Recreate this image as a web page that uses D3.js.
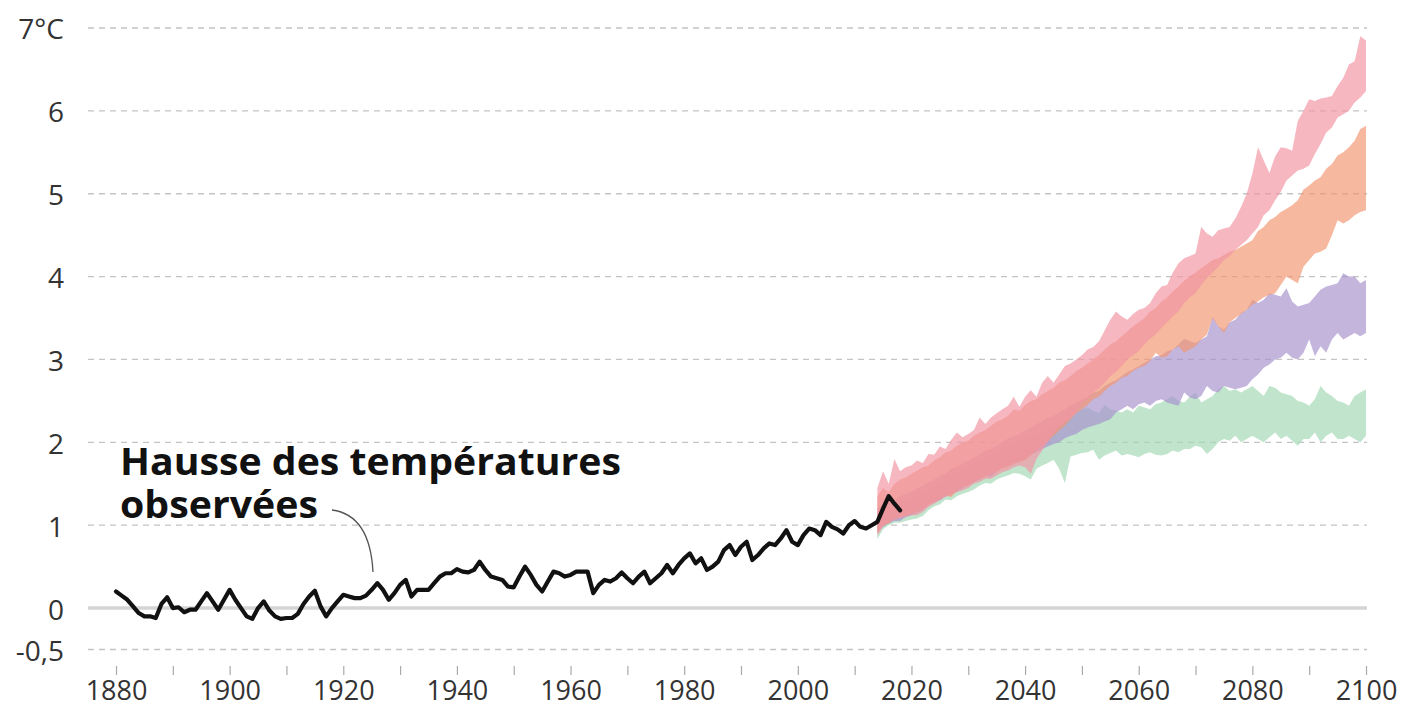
<!DOCTYPE html>
<html><head><meta charset="utf-8">
<script src="https://cdn.jsdelivr.net/npm/d3@7"></script>
<style>
html,body{margin:0;padding:0;background:#fff;}
svg{display:block;font-family:"Open Sans",sans-serif;}
</style></head><body>
<svg id="chart" width="1407" height="709"></svg>
<script>
// ---------- DATA ----------
const yTicks = [-0.5, 0, 1, 2, 3, 4, 5, 6, 7];
const yTickLabels = ["-0,5", "0", "1", "2", "3", "4", "5", "6", "7°C"];
const xTicks = [1880,1890,1900,1910,1920,1930,1940,1950,1960,1970,1980,1990,2000,2010,2020,2030,2040,2050,2060,2070,2080,2090,2100];
const xTickLabels = ["1880","","1900","","1920","","1940","","1960","","1980","","2000","","2020","","2040","","2060","","2080","","2100"];

const obsStartYear = 1880;
const obsTemp = [
  0.20,0.15,0.10,0.02,-0.06,-0.10,-0.10,-0.12,0.05,0.13,
  0.00,0.01,-0.05,-0.02,-0.02,0.08,0.18,0.08,-0.02,0.10,
  0.22,0.10,0.00,-0.10,-0.13,0.00,0.08,-0.03,-0.10,-0.13,
  -0.12,-0.12,-0.07,0.05,0.14,0.21,0.02,-0.10,0.00,0.08,
  0.16,0.14,0.12,0.12,0.15,0.22,0.30,0.22,0.10,0.18,
  0.28,0.34,0.14,0.22,0.22,0.22,0.30,0.38,0.42,0.42,
  0.47,0.44,0.43,0.46,0.56,0.46,0.38,0.36,0.34,0.26,
  0.25,0.38,0.50,0.40,0.28,0.20,0.32,0.44,0.42,0.38,
  0.40,0.44,0.44,0.44,0.18,0.28,0.34,0.32,0.36,0.43,
  0.36,0.30,0.38,0.44,0.30,0.36,0.42,0.52,0.42,0.52,
  0.60,0.66,0.54,0.60,0.46,0.50,0.56,0.70,0.76,0.64,
  0.74,0.80,0.58,0.64,0.72,0.78,0.76,0.84,0.94,0.80,
  0.76,0.88,0.96,0.94,0.88,1.04,0.98,0.95,0.90,1.00,
  1.05,0.98,0.96,1.00,1.04,1.20,1.35,1.26,1.18
];

const scenStartYear = 2014;
// 2014..2100
const greenLow = [
  0.83,0.95,1.00,1.03,1.03,1.05,
  1.07,1.08,1.11,1.18,1.23,1.25,1.31,1.30,1.35,1.38,
  1.40,1.43,1.48,1.51,1.50,1.55,1.58,1.60,1.63,1.62,
  1.59,1.55,1.68,1.72,1.75,1.79,1.68,1.51,1.83,1.85,
  1.87,1.88,1.91,1.79,1.84,1.87,1.90,1.84,1.86,1.84,
  1.82,1.86,1.88,1.85,1.84,1.86,1.90,1.88,1.92,1.92,
  1.96,1.94,1.86,1.92,2.00,2.04,2.02,2.08,2.00,2.04,
  2.08,2.04,2.00,2.06,2.12,2.04,2.08,2.02,1.96,2.04,
  2.04,2.12,2.00,2.08,2.12,2.04,2.04,2.08,2.04,2.00,
  2.08
];
const greenHigh = [
  1.10,1.15,1.18,1.22,1.25,1.28,
  1.32,1.35,1.40,1.42,1.48,1.52,1.55,1.60,1.62,1.68,
  1.70,1.75,1.78,1.82,1.85,1.88,1.92,1.95,2.00,2.02,
  2.05,2.08,2.10,2.12,2.18,2.20,2.22,2.25,2.28,2.35,
  2.40,2.42,2.38,2.35,2.45,2.40,2.38,2.36,2.40,2.36,
  2.44,2.42,2.40,2.46,2.48,2.52,2.56,2.50,2.48,2.55,
  2.60,2.48,2.52,2.56,2.64,2.68,2.62,2.64,2.60,2.64,
  2.68,2.62,2.56,2.68,2.66,2.60,2.58,2.56,2.50,2.48,
  2.44,2.52,2.68,2.60,2.56,2.50,2.48,2.44,2.56,2.60,
  2.64
];
const purpleLow = [
  0.92,0.98,1.02,1.05,1.05,1.10,
  1.12,1.15,1.18,1.25,1.28,1.30,1.35,1.38,1.40,1.45,
  1.48,1.52,1.55,1.60,1.58,1.65,1.70,1.72,1.75,1.78,
  1.80,1.85,1.88,1.92,1.95,1.98,2.00,2.05,2.08,2.10,
  2.15,2.18,2.20,2.22,2.25,2.28,2.36,2.40,2.44,2.40,
  2.46,2.48,2.44,2.50,2.52,2.48,2.46,2.44,2.60,2.54,
  2.52,2.56,2.68,2.62,2.60,2.68,2.66,2.64,2.66,2.68,
  2.76,2.82,2.90,2.94,3.00,3.02,3.08,3.02,3.00,3.08,
  3.24,3.04,3.16,3.08,3.24,3.32,3.24,3.28,3.32,3.28,
  3.32
];
const purpleHigh = [
  1.20,1.25,1.28,1.30,1.35,1.38,
  1.40,1.45,1.48,1.52,1.55,1.60,1.62,1.68,1.70,1.75,
  1.78,1.82,1.85,1.90,1.92,1.96,2.00,2.05,2.08,2.10,
  2.15,2.18,2.22,2.25,2.30,2.32,2.36,2.40,2.45,2.48,
  2.52,2.55,2.60,2.62,2.68,2.72,2.75,2.80,2.85,2.88,
  2.92,2.96,3.00,3.04,3.05,3.10,3.12,3.18,3.25,3.22,
  3.20,3.24,3.28,3.52,3.40,3.36,3.45,3.48,3.56,3.60,
  3.72,3.68,3.72,3.80,3.78,3.76,3.86,3.70,3.64,3.66,
  3.68,3.76,3.84,3.88,3.90,3.92,4.04,4.00,4.00,3.92,
  3.96
];
const orangeLow = [
  0.90,1.00,1.02,1.08,1.10,1.12,
  1.14,1.16,1.20,1.24,1.28,1.32,1.36,1.34,1.42,1.46,
  1.48,1.52,1.56,1.58,1.62,1.64,1.68,1.70,1.74,1.76,
  1.78,1.84,1.90,1.96,2.02,2.08,2.14,2.20,2.28,2.35,
  2.40,2.45,2.52,2.55,2.62,2.68,2.72,2.78,2.80,2.86,
  2.90,2.92,2.98,3.08,3.02,3.04,3.12,3.16,3.08,3.12,
  3.16,3.24,3.30,3.50,3.40,3.32,3.45,3.50,3.55,3.60,
  3.66,3.70,3.75,3.78,3.80,3.90,4.00,3.96,3.92,4.12,
  4.20,4.28,4.30,4.34,4.50,4.68,4.64,4.68,4.74,4.78,
  4.80
];
const orangeHigh = [
  1.35,1.45,1.40,1.50,1.55,1.58,
  1.62,1.66,1.70,1.72,1.78,1.82,1.88,1.90,1.96,2.00,
  2.02,2.08,2.12,2.15,2.20,2.25,2.28,2.32,2.40,2.38,
  2.45,2.50,2.52,2.58,2.62,2.66,2.72,2.75,2.80,2.86,
  2.90,2.95,3.00,3.05,3.12,3.18,3.22,3.28,3.34,3.40,
  3.45,3.50,3.58,3.62,3.70,3.75,3.82,3.88,3.95,4.00,
  4.05,4.10,4.15,4.20,4.22,4.26,4.30,4.32,4.36,4.40,
  4.44,4.55,4.60,4.68,4.72,4.78,4.82,4.86,4.92,5.05,
  5.10,5.16,5.20,5.30,5.36,5.46,5.50,5.56,5.64,5.78,
  5.82
];
const pinkLow = [
  0.88,0.98,1.04,1.06,1.08,1.10,
  1.12,1.12,1.16,1.22,1.26,1.30,1.34,1.36,1.40,1.42,
  1.45,1.50,1.52,1.56,1.56,1.60,1.64,1.66,1.70,1.72,
  1.70,1.62,1.80,1.90,2.00,2.10,2.18,2.24,2.30,2.36,
  2.48,2.52,2.60,2.65,2.72,2.80,2.85,2.92,3.00,3.05,
  3.10,3.18,3.25,3.30,3.38,3.45,3.52,3.58,3.68,3.75,
  3.80,3.90,3.98,4.05,4.12,4.20,4.25,4.32,4.38,4.44,
  4.52,4.60,4.74,4.80,4.92,5.02,5.16,5.22,5.28,5.30,
  5.34,5.48,5.60,5.74,5.80,5.92,5.96,6.00,6.10,6.16,
  6.24
];
const pinkHigh = [
  1.45,1.65,1.50,1.80,1.65,1.70,
  1.72,1.78,1.75,1.86,1.85,1.95,1.92,2.03,2.12,2.06,
  2.10,2.15,2.30,2.22,2.30,2.35,2.40,2.44,2.55,2.43,
  2.55,2.63,2.55,2.72,2.80,2.72,2.82,2.92,2.95,3.00,
  3.05,3.12,3.15,3.22,3.35,3.48,3.58,3.52,3.48,3.55,
  3.60,3.62,3.68,3.80,3.88,3.90,4.05,4.16,4.22,4.25,
  4.28,4.60,4.52,4.48,4.56,4.58,4.60,4.70,4.84,5.00,
  5.24,5.56,5.40,5.25,5.45,5.56,5.55,5.52,5.88,6.00,
  6.14,6.12,6.15,6.16,6.18,6.30,6.40,6.56,6.60,6.90,
  6.85
];

const scenarios = [
  {name: "green",  low: greenLow,  high: greenHigh,  color: "#a4d7b6"},
  {name: "purple", low: purpleLow, high: purpleHigh, color: "#a892cd"},
  {name: "orange", low: orangeLow, high: orangeHigh, color: "#f29670"},
  {name: "pink",   low: pinkLow,   high: pinkHigh,   color: "#f195a4"}
];

const annotationLines = ["Hausse des températures", "observées"];

// ---------- CHART ----------
const svg = d3.select("#chart");
const x = d3.scaleLinear().domain([1880, 2100]).range([116, 1366]);
const y = d3.scaleLinear().domain([-0.5, 7]).range([649.5, 28]);
const gridX0 = 88, gridX1 = 1367;

// grid lines
svg.append("g").selectAll("line")
  .data(yTicks.filter(d => d !== 0))
  .join("line")
  .attr("x1", gridX0).attr("x2", gridX1)
  .attr("y1", d => y(d)).attr("y2", d => y(d))
  .attr("stroke", "#c4c4c4").attr("stroke-width", 1.3)
  .attr("stroke-dasharray", "6,5");

// zero line
svg.append("line")
  .attr("x1", gridX0).attr("x2", gridX1)
  .attr("y1", y(0)).attr("y2", y(0))
  .attr("stroke", "#d4d4d4").attr("stroke-width", 3.5);

// y axis labels
const yAxis = d3.axisLeft(y).tickValues(yTicks)
  .tickFormat((d, i) => yTickLabels[i]).tickSize(0).tickPadding(0);
const gy = svg.append("g").attr("transform", "translate(64,2)").call(yAxis);
gy.select(".domain").remove();
gy.selectAll("text").attr("font-size", 28).attr("fill", "#333")
  .attr("font-family", "'Open Sans', sans-serif");

// x axis
const xAxis = d3.axisBottom(x).tickValues(xTicks)
  .tickFormat((d, i) => xTickLabels[i]).tickSize(9).tickPadding(6);
const gx = svg.append("g").attr("transform", "translate(0,666)").call(xAxis);
gx.select(".domain").remove();
gx.selectAll(".tick line").attr("stroke", "#aaa").attr("stroke-width", 1.2);
gx.selectAll("text").attr("font-size", 27).attr("fill", "#333")
  .attr("font-family", "'Open Sans', sans-serif");

// scenario bands
const area = d3.area()
  .x((d, i) => x(scenStartYear + i))
  .y0(d => y(d[0]))
  .y1(d => y(d[1]))
  .curve(d3.curveLinear);

svg.append("g").selectAll("path")
  .data(scenarios)
  .join("path")
  .attr("d", s => area(s.low.map((v, i) => [v, s.high[i]])))
  .attr("fill", s => s.color)
  .attr("fill-opacity", 0.68);

// observed line
const line = d3.line()
  .x((d, i) => x(obsStartYear + i))
  .y(d => y(d))
  .curve(d3.curveLinear);
svg.append("path")
  .attr("d", line(obsTemp))
  .attr("fill", "none")
  .attr("stroke", "#111")
  .attr("stroke-width", 4.2)
  .attr("stroke-linejoin", "round")
  .attr("stroke-linecap", "round");

// annotation
const ann = svg.append("g");
const annTargets = [501, 198];
annotationLines.forEach((t, i) => {
  const tx = ann.append("text")
    .attr("x", 120).attr("y", 475 + i * 43)
    .attr("font-size", 37).attr("font-weight", 700)
    .attr("fill", "#111")
    .text(t);
  const w = tx.node().getComputedTextLength();
  if (Math.abs(w - annTargets[i]) > 3) {
    tx.attr("textLength", annTargets[i]).attr("lengthAdjust", "spacingAndGlyphs");
  }
});
ann.append("path")
  .attr("d", "M332,510 Q370,515 373,572")
  .attr("fill", "none").attr("stroke", "#555").attr("stroke-width", 1.3);
</script>
</body></html>
